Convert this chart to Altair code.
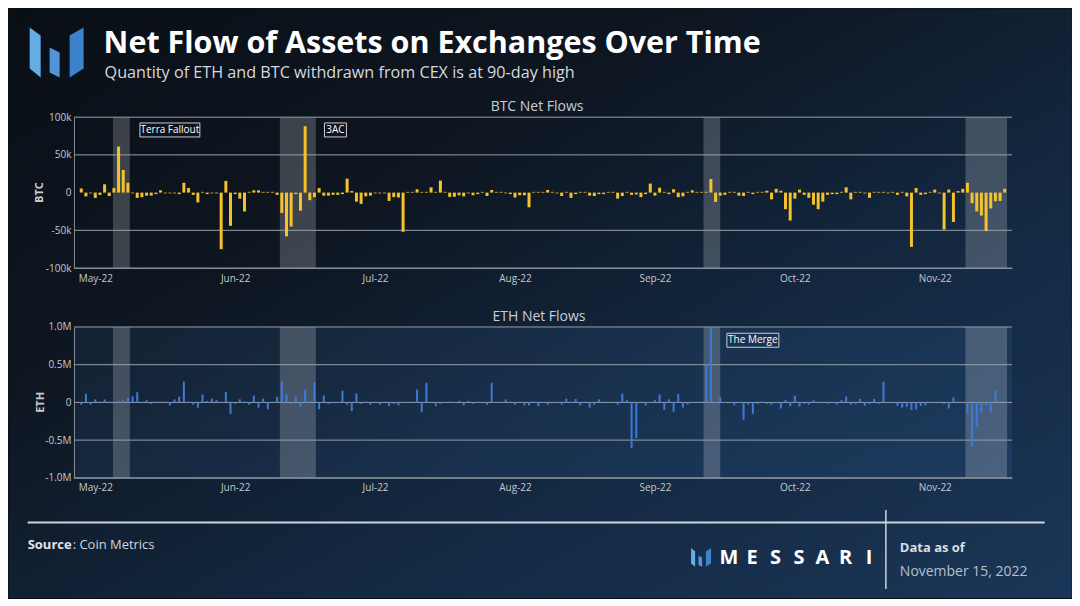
import json
import altair as alt
import pandas as pd

# ---------------- data ----------------
start_date = "2022-05-01"

# BTC daily net flow, thousands of BTC
btc_k = [
    5.5, -5, -1, -7, -3, 11, -4.5, 6, 61, 30,
    13, -1, -7, -6, -4, -4, -2, 3, -1, -1,
    -1, -2, 13, 6, -3, -13, 1, -2, -1, -1,
    -75, 15.5, -44, -2, -8, -25, 1, 3, 3, 1,
    1, 1, -3, -27, -58, -45, -2, -24, 88, -10,
    -6, 6, -4, -4, -3, -3, -2, 18.5, 2, -12,
    -15, -5, -4, -1, -1, -1, -11, -6, -6.5, -52,
    1, 1, 4.4, 1, 1, 7, 1, 16, 1, -5.7,
    -5.5, -3.5, -5, -1, -3.5, -2, 1, -4.5, 3.5, 1,
    1, -1, -2, -6.5, -3.5, -3.5, -19.5, 1, 1, 1,
    3.5, 1, -1, -4.5, 1, -7, -2, 1, 1, -4,
    -4.5, -2, -2, 1, 1, -8, -4.5, 1, -3, -2.5,
    -6, -2, 12, -4, 6.5, 1, -2, 4.5, -6, -5,
    1, 3, 1, 1, 1,
    18, -12.4, -4, -3, 1, 1, -4, -4.5, 1, -2,
    1, 1, 2.5, -9, 5, 2.5, -22, -37, -8, 4,
    -3, -7, -16, -22, -12, -3, -2, -2, 1, 7,
    -9, 1, 1, -1, -7, 1, 1, 1, -1, 1,
    -3, 1, -5, -72, 6, -3, -2, 1, 4, -1,
    -49, 4, -39, 2, 5, 13, -14, -25, -30.5, -51,
    -21, -11.5, -11, 5,
]

# ETH daily net flow, millions of ETH
eth_m = [
    -0.03, 0.115, -0.03, 0.04, 0.01, 0.04, 0.01, 0.01, 0.02, 0.03,
    0.06, 0.08, 0.135, -0.01, 0.03, -0.02, 0.01, 0.01, 0.005, -0.04,
    0.04, 0.075, 0.275, 0.01, -0.03, -0.07, 0.105, 0.02, 0.05, 0.03,
    0.005, 0.14, -0.155, -0.02, 0.04, 0.01, -0.03, 0.09, -0.07, 0.05,
    -0.09, 0.005, 0.075, 0.275, 0.11, -0.02, 0.08, -0.06, 0.17, 0.02,
    0.265, -0.09, 0.09, -0.02, -0.01, 0.005, 0.155, -0.03, -0.115, 0.12,
    -0.02, 0.01, -0.03, 0.01, -0.03, 0.01, -0.05, -0.02, -0.04, 0.005,
    0.005, 0.01, 0.17, -0.13, 0.26, 0.005, -0.05, -0.02, 0.005, 0.01,
    -0.01, 0.02, -0.04, 0.02, -0.02, 0.01, 0.005, -0.03, 0.26, 0.005,
    0.005, 0.04, 0.01, -0.03, 0.01, -0.04, -0.04, 0.01, -0.05, 0.005,
    -0.03, -0.01, 0.005, -0.03, 0.05, 0.005, 0.045, -0.04, 0.01, -0.07,
    -0.03, 0.04, 0.005, 0.005, 0.005, -0.03, 0.115, 0.03, -0.605, -0.475,
    0.01, -0.04, 0.005, 0.03, 0.105, -0.10, 0.04, -0.125, 0.11, -0.07,
    -0.03, 0.005, 0.01, 0.01, 0.51, 1.0, 0.005, 0.07, 0.005, -0.01,
    -0.04, -0.01, -0.23, -0.03, -0.15, -0.02, 0.005, -0.02, -0.03, -0.01,
    -0.08, 0.035, -0.05, 0.09, -0.055, -0.02, -0.03, 0.03, 0.005, 0.005,
    -0.02, 0.005, -0.03, 0.03, 0.08, -0.03, -0.02, 0.045, -0.045, -0.02,
    0.045, -0.02, 0.275, 0.005, -0.01, -0.045, -0.07, -0.06, -0.10, -0.095,
    -0.045, -0.04, 0.005, 0.005, 0.005, -0.02, -0.08, 0.065, 0.01, 0.005,
    -0.145, -0.59, -0.325, -0.14, -0.04, -0.135, 0.155, 0.0, 0.0,
]

tick_dates = ["2022-05-04", "2022-06-03", "2022-07-03", "2022-08-02",
              "2022-09-01", "2022-10-01", "2022-10-31"]
tick_labels = ["May-22", "Jun-22", "Jul-22", "Aug-22", "Sep-22", "Oct-22", "Nov-22"]

event_names = ["Terra Fallout", "3AC", "The Merge", "FTX"]
event_start = ["2022-05-07T19:00", "2022-06-12T14:00", "2022-09-11T10:00", "2022-11-06T14:00"]
event_end = ["2022-05-11T10:00", "2022-06-20T07:00", "2022-09-15T00:00", "2022-11-15T12:00"]

btc_notes = ["Terra Fallout", "3AC"]
btc_note_dates = ["2022-05-20", "2022-06-24T12:00"]
eth_notes = ["The Merge"]
eth_note_dates = ["2022-09-22"]

btc_ticks = [-100000, -50000, 0, 50000, 100000]
btc_grid = [-100000, -50000, 50000, 100000]
eth_ticks = [-1000000, -500000, 0, 500000, 1000000]
eth_grid = [-1000000, -500000, 0, 500000, 1000000]

x_domain = ["2022-04-30T12:00", "2022-11-15T12:00"]

# ---------------- frames ----------------
dates = pd.date_range(start_date, periods=len(btc_k), freq="D")
flows = pd.DataFrame({
    "date": dates,
    "btc": [v * 1000 for v in btc_k],
    "eth": [v * 1e6 for v in eth_m],
})
events = pd.DataFrame({
    "name": event_names,
    "start": pd.to_datetime(event_start),
    "end": pd.to_datetime(event_end),
})
one = pd.DataFrame({"k": [0]})

# ---------------- style / layout ----------------
W, H = 939, 151
CW, CH = 1064, 590           # whole canvas (page minus its 8px body margins)
OX, OY1 = 65.3, 108.7        # BTC plot origin inside the canvas
REF_X0, REF_Y1, REF_Y2 = 73.3, 116.7, 326.7   # plot origins in page pixels
NOTE_BOX_W = {"Terra Fallout": 60, "3AC": 22, "The Merge": 52}

AXC = "#858e9a"
GRC = "#97a0ab"
LC = "#c3c9d1"
FONT = "Open Sans"


def to_dt(s):
    t = pd.Timestamp(s)
    return alt.DateTime(year=t.year, month=t.month, date=t.day, hours=t.hour, minutes=t.minute)


xscale = alt.Scale(domain=[to_dt(d) for d in x_domain])
x_label_expr = "{}[indexof({}, timeFormat(datum.value, '%Y-%m-%d'))]".format(
    json.dumps(tick_labels), json.dumps(tick_dates))
xaxis = alt.Axis(values=[to_dt(d) for d in tick_dates], labelExpr=x_label_expr, title=None,
                 grid=False, ticks=False, domain=True, domainColor=AXC, domainWidth=1,
                 labelColor=LC, labelFontSize=10, labelPadding=5, labelFlush=False,
                 labelOverlap=False, labelFont=FONT, zindex=1)


def X(field):
    return alt.X(field, type="temporal", scale=xscale, axis=xaxis)


def yaxis(values, expr):
    return alt.Axis(values=values, labelExpr=expr, title=None, grid=False, ticks=False,
                    domain=True, domainColor=AXC, domainWidth=1, labelColor=LC,
                    labelFontSize=10, labelPadding=3, labelOverlap=False, labelFont=FONT,
                    zindex=1)


ys_btc = alt.Scale(domain=[-100000, 100000], nice=False)
ya_btc = yaxis(btc_ticks, "datum.value == 0 ? '0' : (datum.value / 1000) + 'k'")
ys_eth = alt.Scale(domain=[-1000000, 1000000], nice=False)
ya_eth = yaxis(eth_ticks, "datum.value == 0 ? '0' : (datum.value < 0 ? '-' : '') + "
                          "format(abs(datum.value) / 1000000, '.1f') + 'M'")


def txt(text, x, y, size, color, weight="normal", align="left", baseline="middle", angle=0):
    return alt.Chart(one).mark_text(text=text, fontSize=size, color=color, fontWeight=weight,
                                    align=align, baseline=baseline, angle=angle,
                                    font=FONT).encode(x=alt.value(x), y=alt.value(y))


def hline(x1, x2, y, color, width):
    return alt.Chart(one).mark_rule(color=color, strokeWidth=width).encode(
        x=alt.value(x1), x2=alt.value(x2), y=alt.value(y))


def vline(x, y1, y2, color, width):
    return alt.Chart(one).mark_rule(color=color, strokeWidth=width).encode(
        x=alt.value(x), y=alt.value(y1), y2=alt.value(y2))


LOGO_PATHS = [
    ("M-1,-0.926 L-0.593,-0.63 L-0.593,0.926 L-1,0.593 Z", "#67ade5"),
    ("M-0.26,-0.185 L0.111,0 L0.111,0.926 L-0.26,0.74 Z", "#4f95d8"),
    ("M0.481,-0.63 L1,-0.926 L1,0.593 L0.481,0.926 Z", "#3d82cd"),
]


def logo(cx, cy, half):
    return [alt.Chart(one).mark_point(shape=p, size=(2 * half) ** 2, filled=True, fill=c,
                                      opacity=1, strokeWidth=0).encode(
        x=alt.value(cx), y=alt.value(cy)) for p, c in LOGO_PATHS]


def note_layers(labels, note_dates, y_mid):
    out = []
    for lab, d in zip(labels, note_dates):
        df = pd.DataFrame({"date": [pd.Timestamp(d)], "label": [lab]})
        bw = NOTE_BOX_W[lab]
        bh = 14
        h = bh / bw
        box = "M-1,{0} L1,{0} L1,{1} L-1,{1} Z".format(-h, h)
        out.append(alt.Chart(df).mark_point(shape=box, size=bw * bw, filled=False,
                                            stroke="#c9cfd7", strokeWidth=1, opacity=1).encode(
            x=X("date"), y=alt.value(y_mid)))
        out.append(alt.Chart(df).mark_text(fontSize=10, color="#ffffff", font=FONT,
                                           align="center", baseline="middle").encode(
            x=X("date"), y=alt.value(y_mid), text="label:N"))
    return out


def shading():
    return alt.Chart(events).mark_rect(color="#ffffff", opacity=0.2).encode(
        x=X("start"), x2="end", y=alt.value(0), y2=alt.value(H))


def grid(values, scale, axis):
    return alt.Chart(pd.DataFrame({"v": values})).mark_rule(color=GRC, strokeWidth=1).encode(
        y=alt.Y("v:Q", scale=scale, axis=axis))


# ---------------- BTC panel (also carries page background + header) ----------------
bg_grad = alt.LinearGradient(
    gradient="linear", x1=0, y1=0, x2=1, y2=1,
    stops=[alt.GradientStop(color="#0a0f16", offset=0),
           alt.GradientStop(color="#0e1621", offset=0.33),
           alt.GradientStop(color="#13273f", offset=0.62),
           alt.GradientStop(color="#1a3658", offset=1)])
bg = alt.Chart(one).mark_rect(fill=bg_grad).encode(
    x=alt.value(-OX), x2=alt.value(CW - OX), y=alt.value(-OY1), y2=alt.value(CH - OY1))

header = logo(56 - REF_X0, 52 - REF_Y1, 27) + [
    txt("Net Flow of Assets on Exchanges Over Time", 103 - REF_X0, 52.5 - REF_Y1, 30.5,
        "#ffffff", weight="bold", baseline="alphabetic"),
    txt("Quantity of ETH and BTC withdrawn from CEX is at 90-day high", 104 - REF_X0,
        77 - REF_Y1, 16.2, "#d5d9df", baseline="alphabetic"),
]

btc_bars = alt.Chart(flows).mark_bar(color="#f5c22c", size=3).encode(
    x=X("date"), y=alt.Y("btc:Q", scale=ys_btc, axis=ya_btc))

btc_layers = [bg] + header + [
    shading(),
    grid(btc_grid, ys_btc, ya_btc),
    btc_bars,
] + note_layers(btc_notes, btc_note_dates, 12.8) + [
    txt("BTC Net Flows", W / 2 - 6, -10.5, 14, "#c9ced6", align="center"),
    txt("BTC", -34, H / 2, 11, "#c9ced6", weight="bold", align="center", angle=270),
]
btc = alt.layer(*btc_layers).properties(width=W, height=H)

# ---------------- ETH panel (also carries footer) ----------------
eth_bg = alt.Chart(one).mark_rect(color="#4a90e2", opacity=0.1).encode(
    x=alt.value(0), x2=alt.value(W), y=alt.value(0), y2=alt.value(H))

eth_bars = alt.Chart(flows).mark_bar(color="#3d7bd8", size=2).encode(
    x=X("date"), y=alt.Y("eth:Q", scale=ys_eth, axis=ya_eth))


def fx(v):
    return v - REF_X0


def fy(v):
    return v - REF_Y2


messari_letters = list("MESSARI")
footer = [
    hline(fx(27), fx(1045), fy(522.5), "#cfd4db", 2),
    vline(fx(886), fy(510), fy(589), "#cfd4db", 1.5),
    txt("Source", fx(27), fy(544.5), 13, "#e2e5ea", weight="bold"),
    txt(": Coin Metrics", fx(27) + 45, fy(544.5), 13, "#d2d6dc"),
    txt("Data as of", fx(900), fy(548), 13, "#dadde2", weight="bold"),
    txt("November 15, 2022", fx(900), fy(572), 14, "#b9c0ca"),
] + logo(fx(701), fy(557.5), 10) + [
    txt(ch, fx(728.8) + k * 23.4, fy(558), 20, "#ffffff", weight="bold", align="center")
    for k, ch in enumerate(messari_letters)
]

eth_layers = [
    eth_bg,
    shading(),
    grid(eth_grid, ys_eth, ya_eth),
    eth_bars,
] + note_layers(eth_notes, eth_note_dates, 13.3) + [
    txt("ETH Net Flows", W / 2 - 4, -9.5, 14, "#c9ced6", align="center"),
    txt("ETH", -33.3, H / 2, 11, "#c9ced6", weight="bold", align="center", angle=270),
] + footer
eth = alt.layer(*eth_layers).properties(width=W, height=H)

chart = alt.vconcat(btc, eth, spacing=59, bounds="flush").properties(
    padding=0
).configure(background="#0b1119", font=FONT).configure_view(strokeWidth=0)

chart.save("out.html", embed_options={"renderer": "svg", "actions": False})
